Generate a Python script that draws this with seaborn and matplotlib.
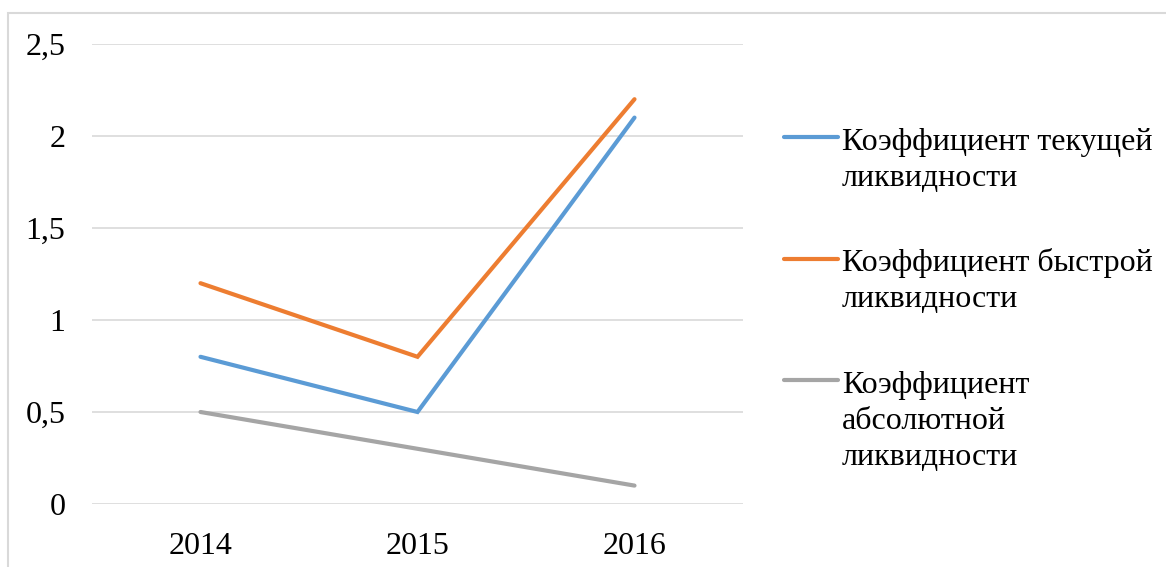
import matplotlib
matplotlib.use("Agg")
import matplotlib.pyplot as plt
from matplotlib.lines import Line2D
from matplotlib.patches import Rectangle
import seaborn as sns
import pandas as pd

years = ["2014", "2015", "2016"]
current_ratio = [0.8, 0.5, 2.1]
quick_ratio = [1.2, 0.8, 2.2]
absolute_ratio = [0.5, 0.3, 0.1]
series_names = [
    "Коэффициент текущей\nликвидности",
    "Коэффициент быстрой\nликвидности",
    "Коэффициент\nабсолютной\nликвидности",
]
y_ticks = [0, 0.5, 1, 1.5, 2, 2.5]
y_tick_labels = ["0", "0,5", "1", "1,5", "2", "2,5"]
colors = ["#5B9BD5", "#ED7D31", "#A5A5A5"]

df = pd.DataFrame({
    "year": years * 3,
    "value": current_ratio + quick_ratio + absolute_ratio,
    "series": [s for s in series_names for _ in years],
})

sns.set_theme(style="white")
plt.rcParams["font.family"] = ["Liberation Serif", "DejaVu Serif"]

W, H = 1166, 567
FS = 23
fig = plt.figure(figsize=(W / 100, H / 100), dpi=100)
ax = fig.add_axes([92 / W, 1 - 504 / H, (743 - 92) / W, (504 - 44) / H])

sns.lineplot(data=df, x="year", y="value", hue="series", palette=colors,
             hue_order=series_names, linewidth=3, ax=ax, legend=False,
             sort=False)
for line in ax.lines:
    line.set_solid_capstyle("round")
    line.set_solid_joinstyle("miter")

ax.set_xlim(-0.5, 2.5)
ax.set_ylim(0, 2.5)
ax.set_yticks(y_ticks)
ax.set_yticklabels(y_tick_labels)
ax.grid(axis="y", color="#D9D9D9", linewidth=1.2)
ax.grid(axis="x", visible=False)
ax.set_axisbelow(True)
for sp in ax.spines.values():
    sp.set_visible(False)
ax.tick_params(axis="y", length=0, pad=19, labelsize=FS, labelcolor="#000000")
ax.tick_params(axis="x", length=0, pad=20, labelsize=FS, labelcolor="#000000")
ax.set_xlabel("")
ax.set_ylabel("")

# outer chart frame
fig.add_artist(Rectangle((8 / W, -0.1), 1.2, 1 - 13 / H + 0.1,
                         transform=fig.transFigure, fill=False,
                         edgecolor="#D9D9D9", linewidth=1.5))

# legend drawn by hand: handle beside the first text line, wrapped labels
handle_y = [137, 259, 380]
baselines = [[150, 186], [271, 307], [393, 429, 465]]
for name, color, hy, bls in zip(series_names, colors, handle_y, baselines):
    fig.add_artist(Line2D([784 / W, 838 / W], [1 - hy / H, 1 - hy / H],
                          transform=fig.transFigure, color=color,
                          linewidth=3, solid_capstyle="round"))
    for text_line, bl in zip(name.split("\n"), bls):
        fig.text(842 / W, 1 - bl / H, text_line, fontsize=FS,
                 va="baseline", ha="left", color="#000000")

fig.savefig("out.png", dpi=100)
